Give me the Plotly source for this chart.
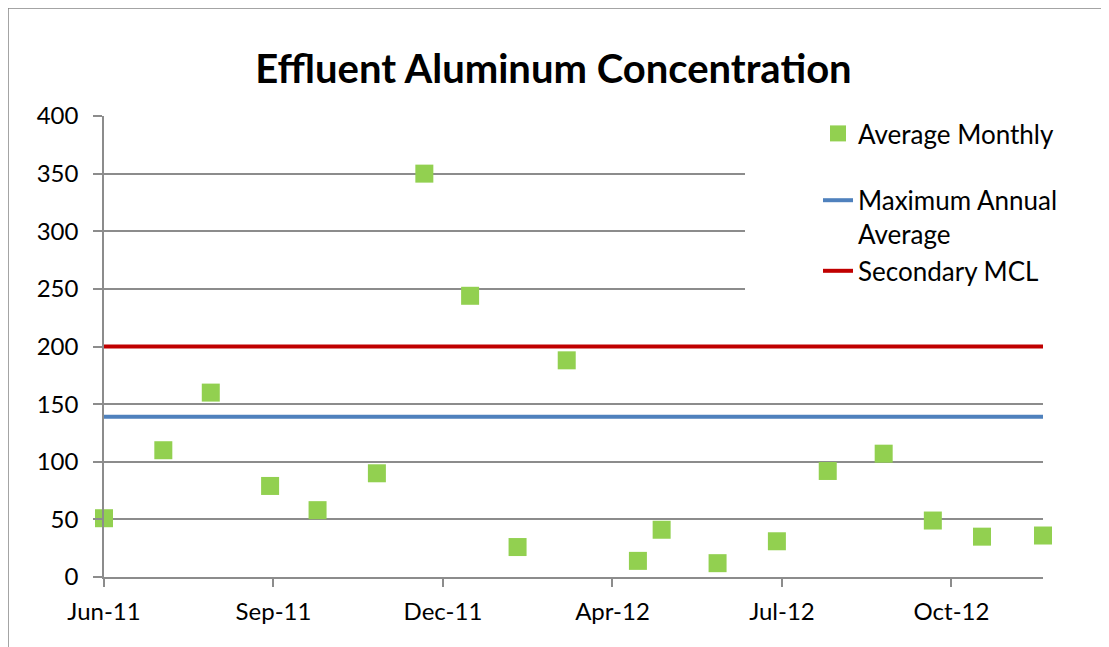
import plotly.graph_objects as go

# ---- data ----
sample_dates = ["2011-06-10", "2011-07-15", "2011-08-12", "2011-09-16", "2011-10-14",
                "2011-11-18", "2011-12-16", "2012-01-12", "2012-02-09", "2012-03-09",
                "2012-04-20", "2012-05-04", "2012-06-06", "2012-07-11", "2012-08-10",
                "2012-09-12", "2012-10-11", "2012-11-09", "2012-12-15"]
avg_monthly = [51, 110, 160, 79, 58, 90, 350, 244, 26, 188,
               14, 41, 12, 31, 92, 107, 49, 35, 36]
line_dates = ["2011-06-10", "2012-12-15"]
max_annual_avg = [139, 139]
secondary_mcl = [200, 200]
tick_dates = ["2011-06-10", "2011-09-18", "2011-12-27", "2012-04-05", "2012-07-14", "2012-10-22"]
tick_labels = ["Jun-11", "Sep-11", "Dec-11", "Apr-12", "Jul-12", "Oct-12"]
y_ticks = [0, 50, 100, 150, 200, 250, 300, 350, 400]

FONT = "Lato"
GRID = "#8c8c8c"
OFF = 8  # page body margin

fig = go.Figure()
fig.add_trace(go.Scatter(
    x=sample_dates, y=avg_monthly, mode="markers", name="Average Monthly",
    marker=dict(symbol="square", size=18, color="#92D050"),
    cliponaxis=False, legendgroup="g1"))
fig.add_trace(go.Scatter(
    x=line_dates, y=max_annual_avg, mode="lines", name="Maximum Annual<br>Average",
    line=dict(color="#4F81BD", width=4), legendgroup="g2"))
fig.add_trace(go.Scatter(
    x=line_dates, y=secondary_mcl, mode="lines", name="Secondary MCL",
    line=dict(color="#C00000", width=4), legendgroup="g2"))

fig.update_layout(
    width=1109, height=647,
    margin=dict(l=104 - OFF, r=66 + OFF, t=116 - OFF, b=70 + OFF),
    paper_bgcolor="white", plot_bgcolor="white",
    font=dict(family=FONT, size=24, color="black"),
    title=dict(text="<b>Effluent Aluminum Concentration</b>", x=(553.5 - 104) / 939,
               xref="paper", xanchor="center", y=0.906, yanchor="middle",
               font=dict(family=FONT, size=40, color="black")),
    showlegend=True,
    legend=dict(x=(818 - 104) / 939, xanchor="left", y=1.013, yanchor="top",
                bgcolor="rgba(0,0,0,0)", borderwidth=0, valign="top",
                traceorder="grouped", tracegroupgap=30,
                font=dict(family=FONT, size=26, color="black")),
    xaxis=dict(type="date", range=[line_dates[0], line_dates[1]],
               tickvals=tick_dates, ticktext=tick_labels,
               showgrid=False, showline=True, linecolor=GRID, linewidth=1.5,
               ticks="outside", ticklen=8, tickcolor=GRID, tickwidth=1.5,
               ticklabelstandoff=4, zeroline=False,
               tickfont=dict(family=FONT, size=24, color="black")),
    yaxis=dict(range=[0, 400], tickvals=y_ticks, showgrid=True, gridcolor=GRID,
               gridwidth=1.5, showline=True, linecolor=GRID, linewidth=1.5,
               ticks="outside", ticklen=9, tickcolor=GRID, tickwidth=1.5,
               ticklabelstandoff=10, zeroline=False,
               tickfont=dict(family=FONT, size=24, color="black")),
    shapes=[
        # white legend box covering gridlines
        dict(type="rect", xref="paper", yref="y", x0=(745 - 104) / 939, x1=1.0,
             y0=240, y1=398, fillcolor="white", line=dict(width=0), layer="above"),
        # outer chart border
        dict(type="rect", xref="paper", yref="paper", x0=(8 - 104) / 939, x1=1.1,
             y0=-0.2, y1=(577 - 8) / 461, fillcolor="rgba(0,0,0,0)",
             line=dict(color="#878787", width=1.5), layer="above"),
    ],
)

fig.write_html("out.html")
